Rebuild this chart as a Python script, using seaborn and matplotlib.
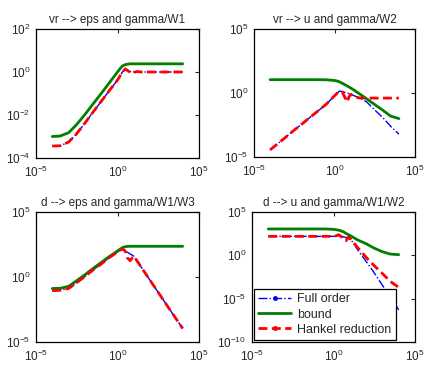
import numpy as np
import pandas as pd
import matplotlib
matplotlib.use("Agg")
import matplotlib.pyplot as plt
from matplotlib.lines import Line2D
import seaborn as sns

# frequency grid (rad/s)
omega = [1e-4, 3e-4, 1e-3, 3e-3, 1e-2, 3e-2, 0.1, 0.3, 1, 1.5, 2, 3, 4, 6, 8, 10,
         15, 30, 100, 300, 1e3, 3e3, 1e4]

# vr --> eps
vr_eps_full = [3.6e-4, 3.7e-4, 5.5e-4, 1.3e-3, 4.2e-3, 1.3e-2, 0.043, 0.13, 0.42, 0.7, 1.0,
               1.3, 1.15, 1.05, 1.0, 1.0, 1.0, 1.0, 1.0, 1.0, 1.0, 1.0, 1.0]
vr_eps_bound = [1.0e-3, 1.05e-3, 1.5e-3, 3.5e-3, 1.05e-2, 3.1e-2, 0.1, 0.3, 1.0, 1.5, 1.9,
                2.2, 2.3, 2.4, 2.4, 2.4, 2.4, 2.4, 2.4, 2.4, 2.4, 2.4, 2.4]
vr_eps_hankel = [3.6e-4, 3.7e-4, 5.5e-4, 1.3e-3, 4.2e-3, 1.3e-2, 0.043, 0.13, 0.42, 0.7, 1.0,
                 1.4, 1.2, 0.95, 0.85, 0.95, 1.05, 1.0, 1.0, 1.0, 1.0, 1.0, 1.0]

# vr --> u
vr_u_full = [3.6e-5, 1.1e-4, 3.8e-4, 1.2e-3, 4e-3, 1.25e-2, 0.042, 0.13, 0.6, 1.0, 1.4,
             1.3, 1.15, 1.0, 0.9, 0.8, 0.65, 0.45, 0.2, 0.05, 0.012, 2.6e-3, 6e-4]
vr_u_bound = [11, 11, 11, 11, 11, 11, 11, 10.8, 9.5, 8.5, 7.5, 5.8, 4.8, 3.6, 2.9, 2.5,
              1.8, 1.0, 0.35, 0.13, 0.045, 0.016, 0.01]
vr_u_hankel = [3.6e-5, 1.1e-4, 3.8e-4, 1.2e-3, 4e-3, 1.25e-2, 0.042, 0.13, 0.6, 1.0, 1.4,
               1.2, 0.6, 0.2, 0.5, 0.8, 0.6, 0.42, 0.4, 0.4, 0.4, 0.4, 0.4]

# d --> eps
d_eps_full = [0.09, 0.095, 0.13, 0.35, 1.1, 3.3, 10, 30, 85, 120, 140, 110, 80, 60, 48, 40,
              19, 5.2, 0.55, 0.072, 7.6e-3, 1e-3, 1.1e-4]
d_eps_bound = [0.13, 0.135, 0.19, 0.5, 1.5, 4.3, 13, 36, 100, 145, 180, 215, 225, 230, 230,
               230, 230, 230, 230, 230, 230, 230, 230]
d_eps_hankel = [0.09, 0.095, 0.13, 0.35, 1.1, 3.3, 10, 30, 85, 120, 140, 100, 30, 18, 30, 40,
                19, 5.2, 0.55, 0.072, 7.6e-3, 1e-3, 1.1e-4]

# d --> u
d_u_full = [155, 155, 155, 155, 155, 155, 155, 155, 155, 170, 175, 160, 140, 110, 90, 70,
            35, 4.5, 0.2, 0.011, 3.5e-4, 2e-5, 5e-7]
d_u_bound = [1100, 1100, 1100, 1100, 1100, 1100, 1100, 1100, 1000, 900, 800, 650, 520, 330,
             250, 200, 130, 60, 22, 7, 2.6, 1.4, 1.2]
d_u_hankel = [155, 155, 155, 155, 155, 155, 155, 155, 155, 180, 240, 150, 60, 50, 130, 100,
              40, 8, 0.6, 0.07, 8e-3, 1e-3, 2e-4]

titles = ["vr --> eps and gamma/W1", "vr --> u and gamma/W2",
          "d --> eps and gamma/W1/W3", "d --> u and gamma/W1/W2"]
series_names = ["Full order", "bound", "Hankel reduction"]

sns.set_style("white")
plt.rcParams['font.family'] = ['Liberation Sans', 'DejaVu Sans']
plt.rcParams['mathtext.fontset'] = 'custom'
plt.rcParams['mathtext.rm'] = 'Liberation Sans'
plt.rcParams['font.size'] = 8.5

blue, green, red = (0, 0, 1), (0, 0.5, 0), (1, 0, 0)
red_dash = (0, (3.2, 1.6))

panels = [
    (vr_eps_full, vr_eps_bound, vr_eps_hankel, (1e-4, 1e2), [1e-4, 1e-2, 1e0, 1e2]),
    (vr_u_full, vr_u_bound, vr_u_hankel, (1e-5, 1e5), [1e-5, 1e0, 1e5]),
    (d_eps_full, d_eps_bound, d_eps_hankel, (1e-5, 1e5), [1e-5, 1e0, 1e5]),
    (d_u_full, d_u_bound, d_u_hankel, (1e-10, 1e5), [1e-10, 1e-5, 1e0, 1e5]),
]
rects = [
    [36 / 425, 209 / 367, 163 / 425, 129 / 367],
    [254 / 425, 210 / 367, 161 / 425, 128 / 367],
    [36 / 425, 25 / 367, 163 / 425, 130 / 367],
    [252 / 425, 25 / 367, 163 / 425, 130 / 367],
]

fig = plt.figure(figsize=(4.25, 3.67), dpi=100)

for i, (full, bound, hankel, ylim, yticks) in enumerate(panels):
    ax = fig.add_axes(rects[i])
    df = pd.DataFrame({"w": omega, "full": full, "bound": bound, "hankel": hankel})
    sns.lineplot(data=df, x="w", y="full", ax=ax, color=blue, linewidth=1,
                 linestyle="-.", sort=False, legend=False)
    sns.lineplot(data=df, x="w", y="bound", ax=ax, color=green, linewidth=2,
                 sort=False, legend=False)
    sns.lineplot(data=df, x="w", y="hankel", ax=ax, color=red, linewidth=2,
                 linestyle=red_dash, sort=False, legend=False)
    ax.set(xscale="log", yscale="log", xlim=(1e-5, 1e5), ylim=ylim, xlabel="", ylabel="")
    ax.set_xticks([1e-5, 1e0, 1e5])
    ax.set_yticks(yticks)
    ax.minorticks_off()
    ax.tick_params(direction="in", length=3, top=True, right=True, labelsize=8.5,
                   pad=4, width=0.8)
    ax.tick_params(axis="x", pad=5)
    for s in ax.spines.values():
        s.set_color("black")
        s.set_linewidth(0.9)
    ax.set_title(titles[i], fontsize=8.5, pad=4)
    if i == 3:
        handles = [
            Line2D([], [], color=blue, linewidth=1, linestyle="-.", marker=".", markersize=5),
            Line2D([], [], color=green, linewidth=2),
            Line2D([], [], color=red, linewidth=2, linestyle=red_dash, marker=".", markersize=5),
        ]
        leg = ax.legend(handles, series_names, loc="lower left", frameon=True, fancybox=False,
                        edgecolor="black", framealpha=1, borderaxespad=0.15, handlelength=2.6,
                        fontsize=9, labelspacing=0.25, borderpad=0.35, handletextpad=0.5,
                        numpoints=1)
        leg.get_frame().set_linewidth(0.9)

fig.savefig("out.png", dpi=100)
